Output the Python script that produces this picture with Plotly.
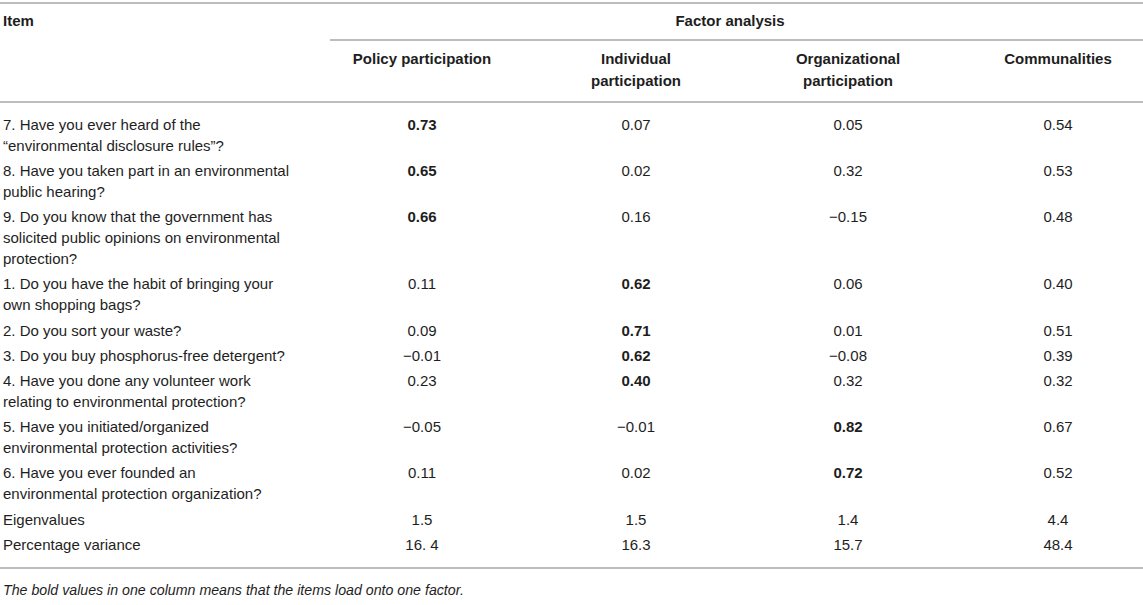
import plotly.graph_objects as go

# ---------------- data ----------------
columns = ["Policy participation", "Individual<br>participation",
           "Organizational<br>participation", "Communalities"]
group_header = "Factor analysis"
item_header = "Item"

items = [
    ["7. Have you ever heard of the", "\u201cenvironmental disclosure rules\u201d?"],
    ["8. Have you taken part in an environmental", "public hearing?"],
    ["9. Do you know that the government has",
     "solicited public opinions on environmental", "protection?"],
    ["1. Do you have the habit of bringing your", "own shopping bags?"],
    ["2. Do you sort your waste?"],
    ["3. Do you buy phosphorus-free detergent?"],
    ["4. Have you done any volunteer work", "relating to environmental protection?"],
    ["5. Have you initiated/organized", "environmental protection activities?"],
    ["6. Have you ever founded an", "environmental protection organization?"],
    ["Eigenvalues"],
    ["Percentage variance"],
]

policy = [0.73, 0.65, 0.66, 0.11, 0.09, -0.01, 0.23, -0.05, 0.11]
individual = [0.07, 0.02, 0.16, 0.62, 0.71, 0.62, 0.40, -0.01, 0.02]
organizational = [0.05, 0.32, -0.15, 0.06, 0.01, -0.08, 0.32, 0.82, 0.72]
communalities = [0.54, 0.53, 0.48, 0.40, 0.51, 0.39, 0.32, 0.67, 0.52]
bold_factor = [0, 0, 0, 1, 1, 1, 1, 2, 2]  # which factor column is bold per item

eigenvalues = [1.5, 1.5, 1.4, 4.4]
pct_variance_labels = ["16. 4", "16.3", "15.7", "48.4"]

footnote = "The bold values in one column means that the items load onto one factor."

# ---------------- layout constants ----------------
W, H = 1143, 605
FONT = "Liberation Sans, Arial, Helvetica, sans-serif"
TXT = "#1e1e1e"
RULE = "#bdbdbd"
FS = 15
col_x = [422, 636, 848, 1058]
group_x = 730
group_line_x0 = 330
item_x = 3
line_h = 21
row_pad = 4.2
body_top = 126


def fmt(v, nd=2):
    s = f"{abs(v):.{nd}f}"
    return ("\u2212" + s) if v < 0 else s


value_rows = []
for i in range(len(policy)):
    vals = [policy[i], individual[i], organizational[i], communalities[i]]
    labels = [fmt(v) for v in vals]
    labels[bold_factor[i]] = "<b>" + labels[bold_factor[i]] + "</b>"
    value_rows.append(labels)
value_rows.append([fmt(v, 1) for v in eigenvalues])
value_rows.append(pct_variance_labels)

# compute y positions of rows
item_xs, item_ys, item_txt = [], [], []
val_xs, val_ys, val_txt = [], [], []
y = body_top
for lines, vals in zip(items, value_rows):
    for k, ln in enumerate(lines):
        item_xs.append(item_x)
        item_ys.append(y + k * line_h)
        item_txt.append(ln)
    for cx, v in zip(col_x, vals):
        val_xs.append(cx)
        val_ys.append(y)
        val_txt.append(v)
    y += len(lines) * line_h + row_pad
last_line_y = y - line_h - row_pad

fig = go.Figure()
fig.add_trace(go.Scatter(
    x=item_xs, y=item_ys, text=item_txt, mode="text",
    textposition="middle right",
    textfont=dict(family=FONT, size=FS, color=TXT),
    hoverinfo="skip", showlegend=False))
fig.add_trace(go.Scatter(
    x=val_xs, y=val_ys, text=val_txt, mode="text",
    textposition="middle center",
    textfont=dict(family=FONT, size=FS, color=TXT),
    hoverinfo="skip", showlegend=False))

# headers
fig.add_trace(go.Scatter(
    x=[item_x], y=[22], text=["<b>" + item_header + "</b>"], mode="text",
    textposition="middle right",
    textfont=dict(family=FONT, size=FS, color=TXT),
    hoverinfo="skip", showlegend=False))

sub_x, sub_y, sub_t = [group_x], [22], ["<b>" + group_header + "</b>"]
for cx, name in zip(col_x, columns):
    for k, part in enumerate(name.split("<br>")):
        sub_x.append(cx)
        sub_y.append(60 + k * 22)
        sub_t.append("<b>" + part + "</b>")
fig.add_trace(go.Scatter(
    x=sub_x, y=sub_y, text=sub_t, mode="text", textposition="middle center",
    textfont=dict(family=FONT, size=FS, color=TXT),
    hoverinfo="skip", showlegend=False))

rule_y_bottom = last_line_y + 22
fig.add_trace(go.Scatter(
    x=[item_x], y=[rule_y_bottom + 23], text=["<i>" + footnote + "</i>"],
    mode="text", textposition="middle right",
    textfont=dict(family=FONT, size=14.2, color=TXT),
    hoverinfo="skip", showlegend=False))

# rules
for (x0, x1, yy) in [(0, W, 3), (group_line_x0, W, 40), (0, W, 102),
                     (0, W, rule_y_bottom)]:
    fig.add_shape(type="line", x0=x0, x1=x1, y0=yy, y1=yy, xref="x", yref="y",
                  line=dict(color=RULE, width=2))

fig.update_layout(
    width=W, height=H, margin=dict(l=0, r=0, t=0, b=0),
    paper_bgcolor="white", plot_bgcolor="white",
    xaxis=dict(range=[0, W], visible=False, fixedrange=True),
    yaxis=dict(range=[H, 0], visible=False, fixedrange=True),
)
fig.write_html("out.html",
               config={"displayModeBar": False, "staticPlot": True},
               post_script="document.body.style.margin='0px';"
                           "document.body.style.overflow='hidden';")
